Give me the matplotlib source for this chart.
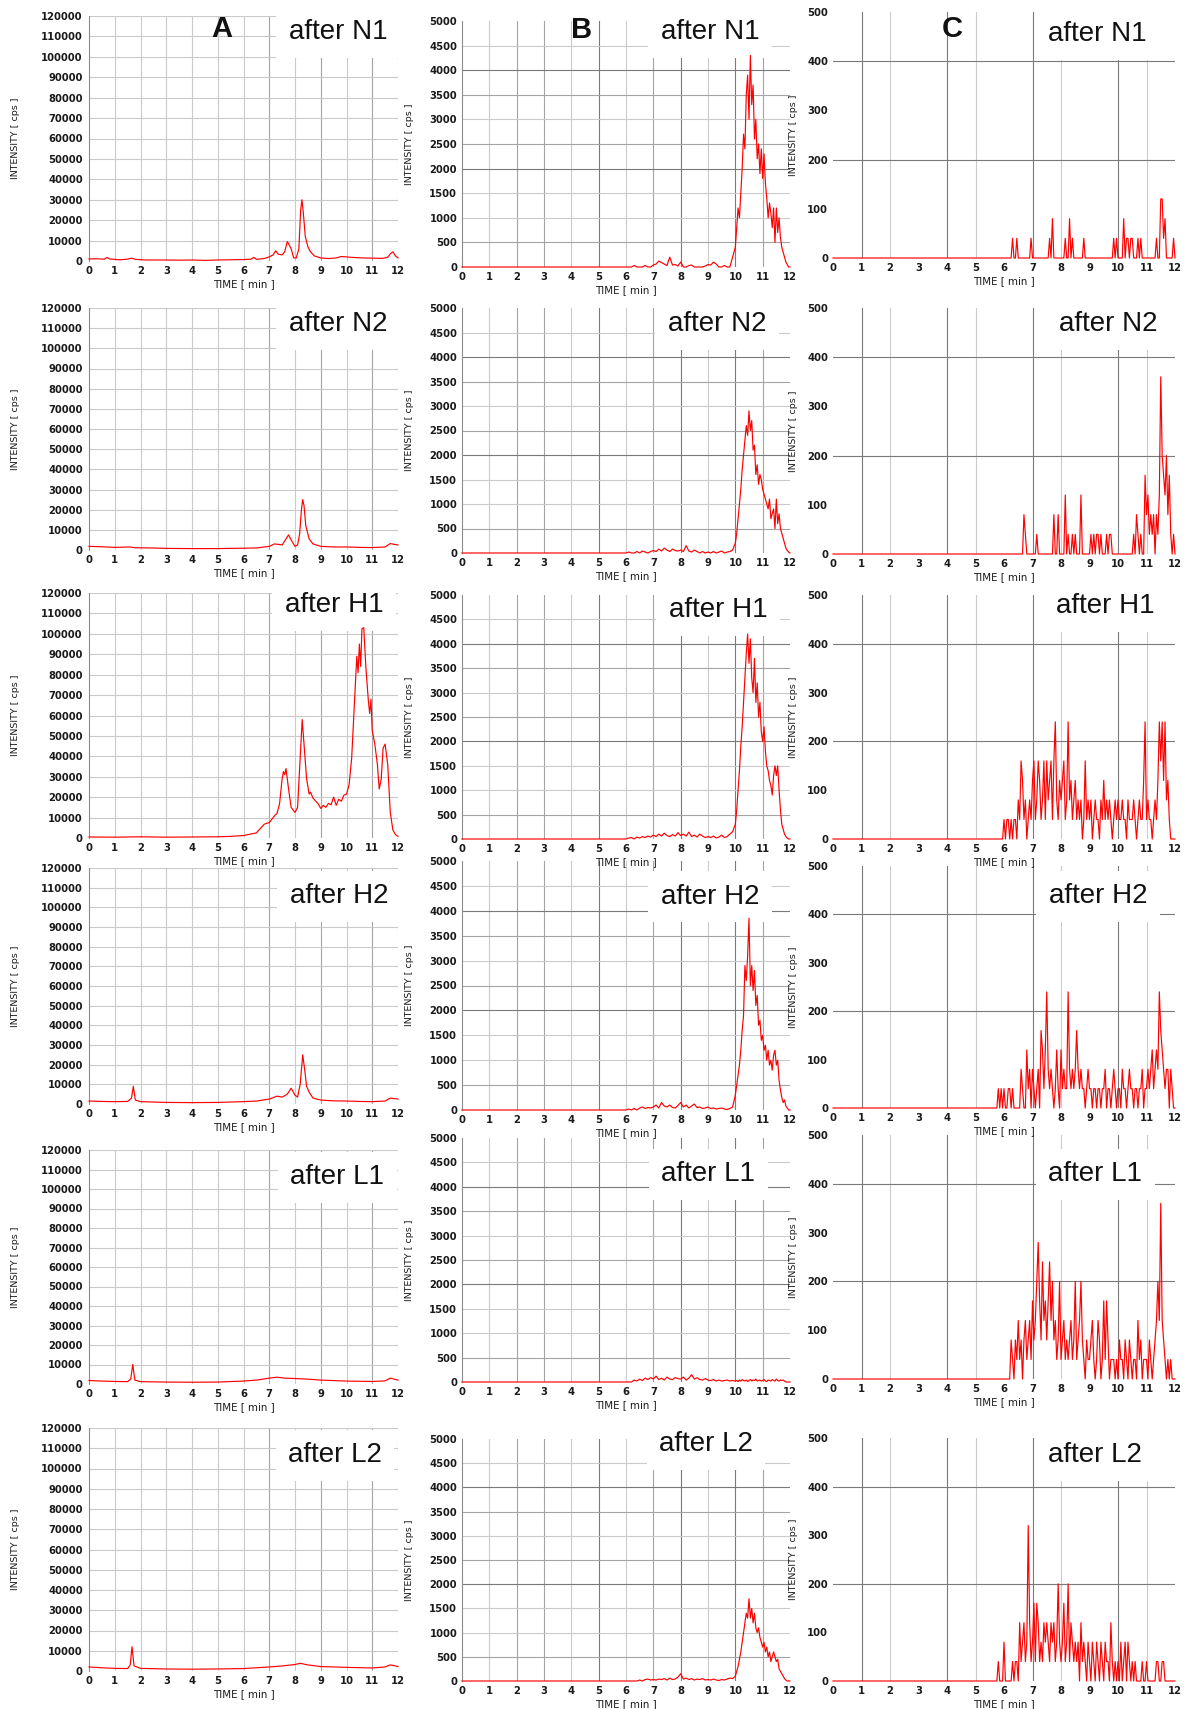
import numpy as np
import matplotlib
matplotlib.use("Agg")
import matplotlib.pyplot as plt

FIG_W, FIG_H = 1187, 1709

ROW_TITLES = ["after N1", "after N2", "after H1", "after H2", "after L1", "after L2"]
COLUMN_LETTERS = ["A", "B", "C"]
TIME_TICKS = list(range(0, 13))
A_YTICKS = list(range(0, 120001, 10000))
B_YTICKS = list(range(0, 5001, 500))
C_YTICKS = list(range(0, 501, 100))

# ---------------------------------------------------------------- column A
# (retention time [min], intensity [cps])
A_N1 = [(0, 1000), (0.3, 1100), (0.6, 900), (0.7, 1700), (0.8, 1000), (1.2, 600),
        (1.5, 900), (1.65, 1400), (1.8, 800), (2.2, 500), (2.8, 500), (3.5, 400),
        (4.0, 500), (4.5, 300), (5.0, 500), (5.5, 600), (6.0, 700), (6.3, 900),
        (6.4, 1800), (6.5, 800), (6.8, 1200), (7.0, 2000), (7.15, 3000), (7.25, 5000),
        (7.35, 3300), (7.5, 3000), (7.6, 4500), (7.7, 9500), (7.75, 8500), (7.85, 6000),
        (7.95, 1500), (8.05, 1500), (8.15, 6000), (8.22, 25000), (8.27, 30000),
        (8.32, 24000), (8.4, 12000), (8.5, 7000), (8.6, 4500), (8.75, 2500), (9.0, 1500),
        (9.3, 1200), (9.6, 1500), (9.8, 2200), (10.2, 1800), (10.6, 1500), (11.0, 1400),
        (11.4, 1300), (11.6, 1800), (11.7, 3500), (11.8, 4500), (11.9, 2500), (12.0, 1500)]
A_N2 = [(0, 1800), (0.5, 1600), (1.0, 1300), (1.6, 1500), (1.8, 1100), (2.5, 1000),
        (3.0, 800), (4.0, 700), (5.0, 700), (6.0, 900), (6.5, 1000), (7.0, 1800),
        (7.2, 3000), (7.35, 2800), (7.5, 2500), (7.65, 5500), (7.75, 7500), (7.85, 5000),
        (8.0, 1800), (8.1, 2500), (8.18, 8000), (8.25, 20000), (8.3, 25000), (8.35, 22000),
        (8.42, 12000), (8.55, 5500), (8.7, 3000), (9.0, 1800), (9.5, 1500), (10.0, 1500),
        (10.5, 1300), (11.0, 1200), (11.5, 1500), (11.7, 3200), (11.85, 2800), (12.0, 2500)]
A_H1 = [(0, 500), (1, 400), (2, 600), (3, 400), (4, 500), (5, 600), (5.5, 800),
        (6.0, 1200), (6.5, 2500), (6.8, 6700), (6.9, 7200), (7.0, 7500), (7.2, 10800),
        (7.3, 12000), (7.4, 16700), (7.5, 29000), (7.55, 32500), (7.6, 31000),
        (7.65, 34000), (7.75, 24000), (7.85, 15000), (8.0, 12500), (8.1, 15000),
        (8.2, 39000), (8.28, 58000), (8.35, 46000), (8.45, 29000), (8.55, 21500),
        (8.6, 22500), (8.7, 19500), (8.9, 16700), (9.0, 14500), (9.1, 16000),
        (9.2, 15000), (9.3, 17000), (9.4, 16200), (9.5, 20000), (9.6, 16000),
        (9.7, 19000), (9.8, 18000), (9.9, 21000), (10.0, 21500), (10.1, 26000),
        (10.2, 39000), (10.3, 64000), (10.4, 89000), (10.45, 81000), (10.5, 95000),
        (10.55, 84000), (10.6, 102500), (10.67, 103000), (10.75, 84000), (10.85, 67000),
        (10.9, 61000), (10.95, 68000), (11.0, 52500), (11.1, 46000), (11.2, 36000),
        (11.27, 24000), (11.35, 29000), (11.42, 44000), (11.5, 46000), (11.6, 36000),
        (11.7, 12500), (11.8, 4000), (11.9, 1700), (12.0, 800)]
A_H2 = [(0, 1500), (0.5, 1300), (1.0, 1200), (1.5, 1300), (1.65, 3000), (1.72, 9000),
        (1.8, 2000), (2.0, 1200), (2.5, 1000), (3.0, 800), (4.0, 700), (5.0, 800),
        (6.0, 1200), (6.5, 1500), (7.0, 2500), (7.3, 4000), (7.5, 3500), (7.7, 5000),
        (7.85, 8000), (8.0, 4500), (8.1, 3500), (8.2, 10000), (8.3, 25000), (8.38, 17000),
        (8.45, 9000), (8.55, 6000), (8.7, 3000), (9.0, 2000), (9.5, 1600), (10.0, 1500),
        (10.5, 1300), (11.0, 1200), (11.5, 1500), (11.7, 3000), (12.0, 2500)]
A_L1 = [(0, 1800), (0.5, 1500), (1.0, 1300), (1.5, 1200), (1.62, 2500), (1.7, 10000),
        (1.78, 2000), (2.0, 1200), (3.0, 1000), (4.0, 900), (5.0, 1000), (6.0, 1500),
        (6.5, 2000), (7.0, 3000), (7.3, 3500), (7.6, 3000), (8.0, 2800), (8.5, 2500),
        (9.0, 2000), (10.0, 1500), (11.0, 1300), (11.5, 1600), (11.7, 3000),
        (11.85, 2500), (12.0, 2000)]
A_L2 = [(0, 2000), (0.5, 1600), (1.0, 1300), (1.5, 1200), (1.6, 3000), (1.67, 12000),
        (1.75, 2500), (2.0, 1300), (3.0, 1000), (4.0, 900), (5.0, 1000), (6.0, 1200),
        (7.0, 2000), (7.5, 2500), (8.0, 3200), (8.2, 3800), (8.5, 3000), (9.0, 2200),
        (10.0, 1800), (11.0, 1500), (11.5, 2000), (11.7, 3000), (11.9, 2500), (12.0, 2200)]

# ---------------------------------------------------------------- column B
# low-level part sampled 6.0 ... 9.9 min (0.1 min), peak part 10.0 ... 12.0 min (0.05 min)
B_N1_LOW = [0, 0, 0, 30, 0, 0, 0, 30, 0, 0,
            40, 60, 120, 90, 60, 30, 200, 40, 50, 20,
            100, 0, 0, 30, 40, 0, 0, 0, 0, 20,
            50, 40, 100, 60, 0, 0, 30, 0, 0, 200]
B_N1_PEAK = [400, 800, 1200, 1000, 1500, 2000, 2700, 2400, 3500, 3900,
             3000, 4300, 3300, 3700, 2600, 3000, 2200, 2500, 1900, 2400,
             1800, 2300, 1700, 1400, 1000, 1300, 1100, 800, 1200, 500,
             1200, 700, 1000, 600, 400, 300, 200, 100, 50, 0,
             0]
B_N2_LOW = [0, 20, 0, 0, 30, 0, 40, 20, 0, 30,
            50, 30, 80, 40, 100, 60, 30, 80, 50, 40,
            60, 30, 150, 40, 20, 60, 30, 0, 30, 0,
            20, 0, 30, 0, 20, 40, 0, 20, 30, 60]
B_N2_PEAK = [200, 400, 700, 1000, 1300, 1700, 2000, 2300, 2600, 2400,
             2900, 2500, 2700, 2100, 2200, 1600, 1800, 1400, 1600, 1500,
             1300, 1200, 1100, 1000, 900, 1100, 700, 800, 900, 500,
             1100, 600, 800, 500, 400, 300, 200, 100, 50, 20,
             0]
B_H1_LOW = [0, 20, 30, 0, 40, 20, 50, 30, 60, 40,
            80, 50, 100, 60, 120, 70, 50, 90, 60, 130,
            70, 100, 60, 140, 50, 80, 40, 100, 60, 30,
            50, 30, 60, 20, 40, 80, 30, 50, 100, 150]
B_H1_PEAK = [300, 600, 1000, 1400, 1900, 2300, 2800, 3300, 3800, 4200,
             3600, 4100, 3300, 3000, 3700, 2800, 3200, 2500, 2800, 2200,
             2000, 2300, 1800, 1500, 1400, 1200, 1100, 900, 1300, 1500,
             1300, 1500, 1000, 600, 300, 200, 100, 50, 20, 0,
             0]
B_H2_LOW = [0, 20, 0, 30, 0, 40, 60, 30, 50, 40,
            60, 100, 40, 150, 80, 60, 100, 50, 40, 90,
            150, 60, 100, 40, 80, 120, 50, 60, 30, 40,
            60, 30, 40, 20, 30, 40, 20, 10, 30, 60]
B_H2_PEAK = [300, 500, 700, 900, 1200, 1600, 1900, 2900, 2600, 3100,
             3850, 2500, 2900, 2400, 2800, 2100, 2300, 1700, 1800, 1400,
             1500, 1200, 1300, 1000, 1200, 900, 1000, 800, 1100, 1200,
             900, 1000, 600, 400, 250, 150, 200, 80, 40, 0,
             0]
B_L1_LOW = [0, 0, 0, 40, 20, 60, 30, 80, 50, 90,
            60, 120, 50, 80, 40, 100, 60, 50, 90, 70,
            60, 100, 40, 80, 150, 60, 90, 50, 40, 70,
            40, 30, 50, 20, 40, 20, 30, 40, 20, 30]
B_L1_PEAK = [20, 30, 10, 40, 20, 50, 30, 20, 40, 10,
             30, 50, 20, 40, 30, 60, 20, 30, 40, 20,
             30, 50, 20, 10, 40, 30, 20, 50, 30, 20,
             60, 30, 20, 40, 30, 40, 20, 0, 0, 0,
             0]
B_L2_LOW = [0, 0, 0, 0, 0, 20, 0, 30, 40, 20,
            30, 20, 40, 30, 50, 20, 60, 30, 40, 80,
            150, 40, 60, 30, 50, 20, 40, 30, 50, 20,
            30, 20, 40, 20, 10, 30, 20, 40, 60, 50]
B_L2_PEAK = [100, 200, 300, 450, 600, 800, 1000, 1200, 1400, 1300,
             1700, 1300, 1500, 1200, 1400, 1100, 1000, 1100, 900, 800,
             700, 800, 600, 700, 500, 600, 400, 500, 600, 500,
             400, 450, 250, 200, 150, 100, 50, 20, 0, 0,
             0]

# ---------------------------------------------------------------- column C
# ion counts sampled 5.50 ... 12.00 min every 0.05 min (one count = 40 cps)
CPS_PER_COUNT = 40
C_N1 = [0, 0, 0, 0, 0, 0, 0, 0, 0, 0,
        0, 0, 0, 0, 0, 0, 1, 0, 0, 1,
        0, 0, 0, 0, 0, 0, 0, 0, 0, 1,
        0, 0, 0, 0, 0, 0, 0, 0, 0, 0,
        0, 0, 1, 0, 2, 0, 0, 0, 0, 0,
        0, 0, 0, 1, 0, 0, 2, 0, 1, 0,
        0, 0, 0, 0, 0, 0, 1, 0, 0, 0,
        0, 0, 0, 0, 0, 0, 0, 0, 0, 0,
        0, 0, 0, 0, 0, 0, 0, 1, 0, 1,
        0, 0, 0, 0, 2, 0, 1, 1, 0, 1,
        1, 0, 0, 0, 1, 0, 1, 0, 0, 0,
        0, 0, 0, 0, 0, 0, 0, 1, 0, 0,
        3, 3, 1, 2, 0, 0, 0, 0, 0, 1,
        0]
C_N2 = [0, 0, 0, 0, 0, 0, 0, 0, 0, 0,
        0, 0, 0, 0, 0, 0, 0, 0, 0, 0,
        0, 0, 0, 0, 2, 1, 0, 0, 0, 0,
        0, 0, 0, 1, 0, 0, 0, 0, 0, 0,
        0, 0, 0, 0, 0, 2, 0, 0, 2, 0,
        0, 0, 0, 3, 0, 1, 0, 0, 1, 0,
        1, 0, 0, 0, 3, 0, 0, 0, 0, 0,
        0, 1, 0, 1, 0, 1, 1, 0, 1, 0,
        0, 0, 1, 0, 1, 1, 0, 0, 0, 0,
        0, 0, 0, 0, 0, 0, 0, 0, 0, 0,
        0, 1, 0, 2, 1, 0, 1, 0, 0, 4,
        2, 3, 1, 2, 1, 2, 0, 2, 1, 3,
        9, 5, 4, 3, 5, 2, 4, 1, 0, 1,
        0]
C_H1 = [0, 0, 0, 0, 0, 0, 0, 0, 0, 0,
        1, 0, 1, 1, 0, 1, 0, 1, 1, 0,
        2, 1, 4, 3, 1, 2, 0, 1, 2, 1,
        3, 4, 1, 2, 4, 3, 1, 2, 4, 1,
        4, 2, 3, 4, 1, 4, 6, 2, 1, 3,
        2, 3, 4, 1, 2, 6, 2, 3, 1, 2,
        3, 1, 2, 1, 2, 0, 1, 4, 1, 2,
        1, 2, 0, 1, 2, 1, 1, 0, 2, 1,
        3, 1, 2, 1, 2, 1, 0, 1, 2, 1,
        2, 1, 1, 2, 1, 1, 0, 2, 1, 1,
        1, 2, 1, 0, 1, 2, 1, 1, 3, 6,
        1, 2, 1, 1, 0, 1, 2, 1, 3, 6,
        4, 6, 3, 6, 2, 3, 1, 0, 0, 0,
        0]
C_H2 = [0, 0, 0, 0, 0, 0, 1, 0, 1, 0,
        1, 0, 0, 1, 1, 0, 1, 0, 0, 0,
        0, 0, 2, 1, 0, 0, 3, 1, 2, 0,
        2, 1, 0, 1, 2, 0, 4, 3, 1, 3,
        6, 2, 1, 2, 1, 0, 1, 3, 1, 0,
        3, 1, 2, 1, 1, 6, 2, 1, 2, 1,
        2, 4, 2, 1, 2, 1, 1, 0, 1, 2,
        1, 1, 0, 1, 1, 0, 1, 1, 0, 1,
        1, 2, 0, 1, 1, 0, 1, 2, 1, 0,
        1, 1, 0, 2, 1, 1, 0, 1, 2, 1,
        1, 0, 1, 1, 0, 1, 1, 2, 0, 1,
        1, 2, 1, 2, 3, 1, 2, 3, 2, 6,
        4, 3, 2, 1, 2, 2, 0, 2, 1, 0,
        0]
C_L1 = [0, 0, 0, 0, 0, 0, 0, 0, 0, 0,
        0, 0, 0, 0, 0, 2, 1, 0, 2, 1,
        3, 1, 2, 0, 2, 3, 1, 2, 3, 1,
        4, 2, 3, 5, 7, 4, 2, 6, 3, 4,
        2, 4, 6, 3, 5, 2, 3, 1, 2, 5,
        1, 2, 3, 1, 2, 1, 2, 3, 1, 2,
        5, 1, 2, 3, 5, 2, 1, 0, 2, 1,
        1, 2, 3, 1, 0, 1, 3, 2, 0, 1,
        4, 1, 4, 2, 0, 1, 1, 1, 0, 1,
        0, 2, 1, 1, 0, 2, 1, 0, 2, 1,
        0, 1, 1, 0, 3, 1, 2, 0, 1, 1,
        1, 0, 2, 1, 0, 1, 2, 3, 5, 3,
        9, 3, 2, 1, 0, 1, 0, 1, 0, 0,
        0]
C_L2 = [0, 0, 0, 0, 0, 0, 1, 0, 0, 0,
        2, 0, 0, 0, 0, 0, 1, 0, 1, 1,
        0, 3, 1, 2, 3, 1, 2, 8, 3, 1,
        2, 4, 1, 4, 3, 1, 2, 1, 3, 2,
        3, 2, 1, 3, 2, 3, 1, 2, 5, 2,
        1, 2, 4, 1, 2, 5, 1, 3, 2, 1,
        2, 1, 2, 0, 3, 1, 2, 1, 0, 2,
        1, 0, 2, 1, 0, 2, 1, 0, 2, 1,
        0, 2, 1, 1, 0, 3, 1, 0, 1, 0,
        1, 0, 2, 0, 1, 2, 0, 2, 1, 0,
        1, 0, 1, 0, 0, 0, 0, 1, 0, 0,
        1, 0, 0, 0, 0, 0, 0, 1, 1, 0,
        0, 1, 1, 0, 0, 0, 0, 0, 0, 0,
        0]

A_TRACES = [A_N1, A_N2, A_H1, A_H2, A_L1, A_L2]
B_TRACES = [(B_N1_LOW, B_N1_PEAK), (B_N2_LOW, B_N2_PEAK), (B_H1_LOW, B_H1_PEAK),
            (B_H2_LOW, B_H2_PEAK), (B_L1_LOW, B_L1_PEAK), (B_L2_LOW, B_L2_PEAK)]
C_TRACES = [C_N1, C_N2, C_H1, C_H2, C_L1, C_L2]


def a_series(pairs):
    arr = np.array(pairs, dtype=float)
    return arr[:, 0], arr[:, 1]


def b_series(low, peak):
    t_low = np.arange(60, 100) / 10.0
    t_peak = np.arange(200, 241) / 20.0
    t = np.concatenate([[0.0], t_low, t_peak])
    v = np.concatenate([[0.0], np.asarray(low, float), np.asarray(peak, float)])
    return t, v


def c_series(counts):
    t_grid = np.arange(110, 110 + len(counts)) / 20.0
    t = np.concatenate([[0.0], t_grid])
    v = np.concatenate([[0.0], np.asarray(counts, float) * CPS_PER_COUNT])
    return t, v


# ---------------------------------------------------------------- layout (pixels)
LAYOUT = {
    "A": dict(x=(89, 398),
              rows=[(16, 261), (308, 550), (593, 838), (868, 1104), (1150, 1384), (1428, 1671)],
              ylab_x=16, ypad=4.5,
              title_x=[338, 338, 334, 339, 337, 335],
              title_y=[32, 324, 605, 896, 1177, 1455],
              letter=(222, 29)),
    "B": dict(x=(462, 790),
              rows=[(21, 267), (308, 553), (595, 839), (861, 1110), (1138, 1382), (1439, 1681)],
              ylab_x=410, ypad=3.5,
              title_x=[710, 717, 718, 710, 708, 706],
              title_y=[32, 324, 610, 897, 1174, 1444],
              letter=(582, 30)),
    "C": dict(x=(833, 1175),
              rows=[(12, 258), (308, 554), (595, 839), (866, 1108), (1135, 1379), (1438, 1681)],
              ylab_x=793, ypad=3.5,
              title_x=[1097, 1108, 1105, 1098, 1095, 1095],
              title_y=[34, 324, 606, 896, 1174, 1455],
              letter=(952, 29)),
}

DARK, MID, LIGHT = "#7a7a7a", "#a4a4a4", "#cacaca"
GRIDS = {
    "A": dict(v={t: (MID if t in (7, 9, 11) else LIGHT) for t in range(1, 13)},
              h={y: LIGHT for y in A_YTICKS[1:]}),
    "B": dict(v={1: LIGHT, 2: MID, 3: MID, 4: LIGHT, 5: DARK, 6: LIGHT, 7: MID,
                 8: DARK, 9: LIGHT, 10: DARK, 11: MID},
              h={500: MID, 1000: LIGHT, 1500: LIGHT, 2000: DARK, 2500: MID,
                 3000: LIGHT, 3500: MID, 4000: DARK, 4500: LIGHT}),
    "C": dict(v={1: DARK, 2: LIGHT, 4: DARK, 5: LIGHT, 7: DARK, 8: LIGHT,
                 10: DARK, 11: LIGHT},
              h={200: DARK, 400: DARK}),
}
YTICKS = {"A": A_YTICKS, "B": B_YTICKS, "C": C_YTICKS}

fig = plt.figure(figsize=(FIG_W / 100, FIG_H / 100), dpi=100)
fig.patch.set_facecolor("white")


def fx(xp):
    return xp / FIG_W


def fy(yp):
    return 1 - yp / FIG_H


for col in COLUMN_LETTERS:
    lay = LAYOUT[col]
    x0, x1 = lay["x"]
    for r, (y0, y1) in enumerate(lay["rows"]):
        ax = fig.add_axes([fx(x0), fy(y1), (x1 - x0) / FIG_W, (y1 - y0) / FIG_H])
        yt = YTICKS[col]
        ax.set_xlim(0, 12)
        ax.set_ylim(0, yt[-1])
        ax.set_facecolor("white")

        for t, c in GRIDS[col]["v"].items():
            ax.axvline(t, color=c, lw=0.8, zorder=0.5)
        for y, c in GRIDS[col]["h"].items():
            ax.axhline(y, color=c, lw=0.8, zorder=0.5)

        if col == "A":
            t, v = a_series(A_TRACES[r])
        elif col == "B":
            t, v = b_series(*B_TRACES[r])
        else:
            t, v = c_series(C_TRACES[r])
        ax.plot(t, v, color="#ff0000", lw=0.85, zorder=3, clip_on=False)

        for s in ax.spines.values():
            s.set_visible(False)
        if col in ("A", "B"):
            ax.spines["left"].set_visible(True)
            ax.spines["left"].set_color("#8c8c8c")
            ax.spines["left"].set_linewidth(0.8)

        ax.set_xticks(TIME_TICKS)
        ax.set_xticklabels([str(k) for k in TIME_TICKS])
        ax.set_yticks(yt)
        ax.set_yticklabels([str(k) for k in yt])
        ax.tick_params(axis="both", length=0, labelsize=7.2, colors="#1a1a1a")
        ax.tick_params(axis="y", pad=lay["ypad"])
        ax.tick_params(axis="x", pad=3.5)
        for lab in ax.get_xticklabels() + ax.get_yticklabels():
            lab.set_fontweight("bold")

        # panel title on a white plate that hides the grid behind it
        ax.text(fx(lay["title_x"][r]), fy(lay["title_y"][r]), ROW_TITLES[r],
                transform=fig.transFigure, ha="center", va="center",
                fontsize=20, family="Liberation Sans", color="#111111",
                bbox=dict(boxstyle="square,pad=0.45", fc="white", ec="none"),
                zorder=1, clip_on=False)

        fig.text(fx(lay["ylab_x"]), fy((y0 + y1) / 2), "INTENSITY [ cps ]",
                 rotation=90, ha="center", va="center", fontsize=6.8, color="#1a1a1a")
        fig.text(fx(x0 + (x1 - x0) * 0.5), fy(y1 + 23), "TIME [ min ]",
                 ha="center", va="center", fontsize=7.4, color="#1a1a1a")

    fig.text(fx(lay["letter"][0]), fy(lay["letter"][1]), col, ha="center", va="center",
             fontsize=21, fontweight="bold", family="Liberation Sans", color="#111111")

fig.savefig("out.png", dpi=100, facecolor="white")
